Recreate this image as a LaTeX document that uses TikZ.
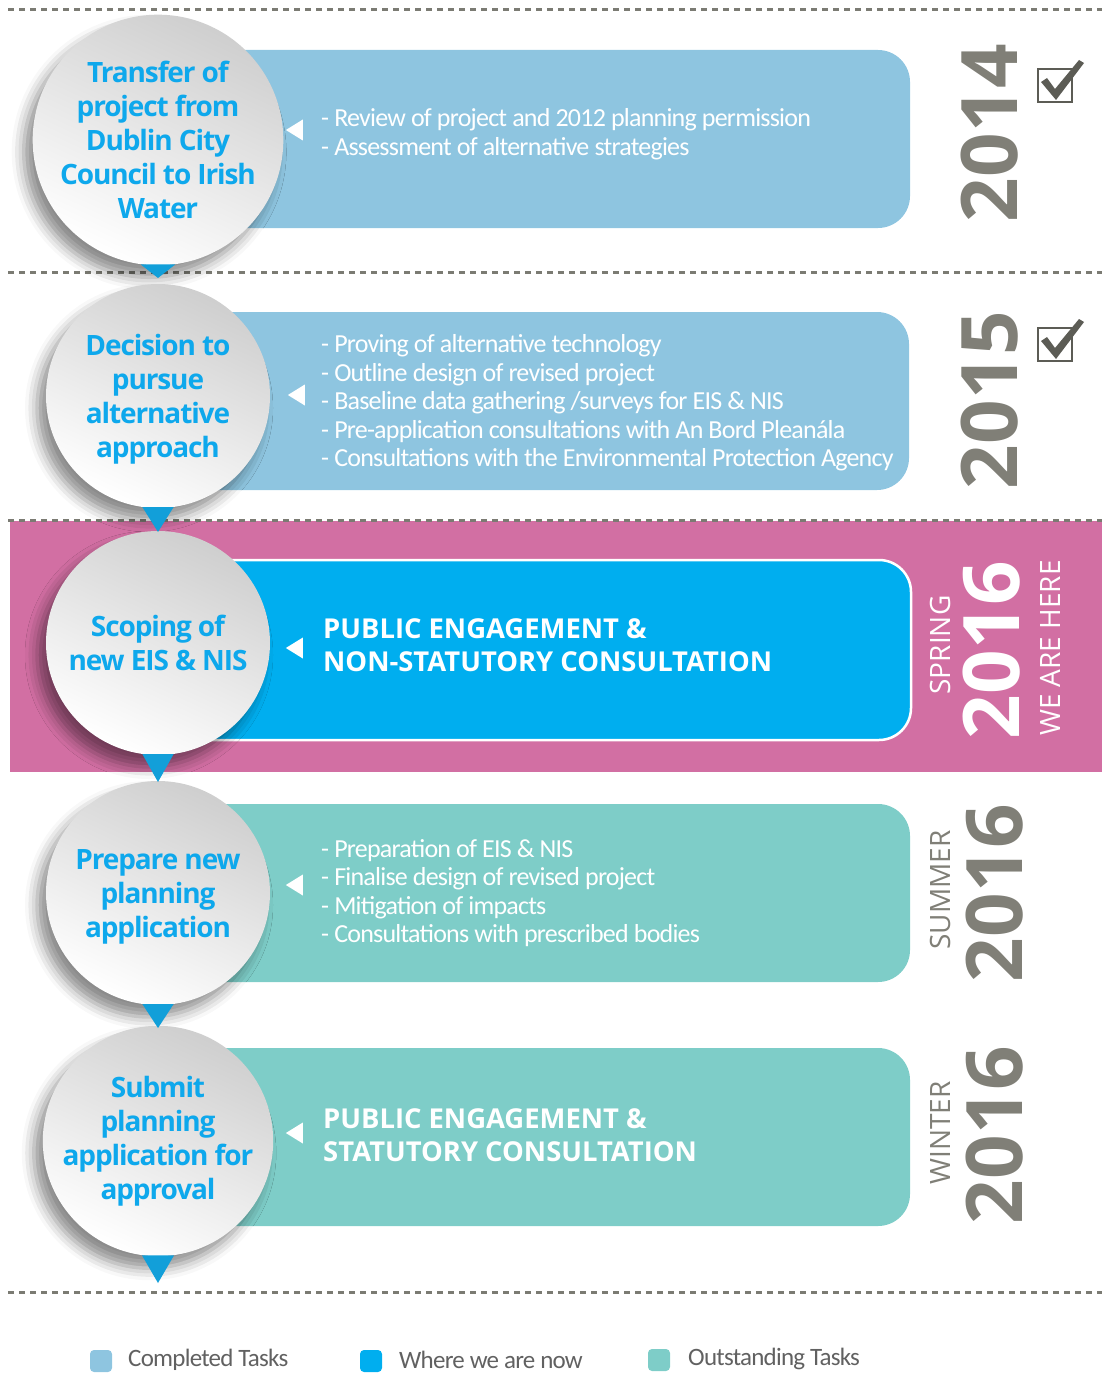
\documentclass[tikz,border=0pt]{standalone}
\usepackage{fontspec}
\setmainfont{Open Sans}
\newfontfamily\stepfont[LetterSpace=-4]{Open Sans}
\newfontfamily\taskfont[LetterSpace=-3]{Carlito}
\usetikzlibrary{shapes.geometric,shadows.blur,calc}

\definecolor{done}{HTML}{8EC5E0}
\definecolor{now}{HTML}{00AEEF}
\definecolor{todo}{HTML}{7ECDC8}
\definecolor{band}{HTML}{D26FA3}
\definecolor{stepblue}{HTML}{0EA8EC}
\definecolor{pinblue}{HTML}{129FD9}
\definecolor{yeargrey}{HTML}{807F77}
\definecolor{dotgrey}{HTML}{7B7B73}
\definecolor{tickgrey}{HTML}{5C5C55}

\begin{document}
\begin{tikzpicture}[x=1pt,y=-1pt]
\useasboundingbox (0,0) rectangle (1102,1375);
%%%%%%%%%%%%%%%%%%%%%%%%%%%%%%%%%%%%%%%%%%%%%%%%%%%%%%%%%%%%%%%%%%%%%%%%
%styles
\tikzstyle{milestone}=[circle,minimum size=224pt,inner sep=0pt,align=center,
  top color=black!19,bottom color=white,shading angle=-25,text=stepblue,
  font=\stepfont\bfseries\fontsize{28}{34}\selectfont,
  blur shadow={shadow xshift=-9pt,shadow yshift=-12pt,shadow blur radius=12pt,shadow opacity=45}]
\tikzstyle{taskbox}=[rectangle,rounded corners=32pt,minimum width=760pt,minimum height=178pt,inner sep=0pt]
\tikzstyle{pointer}=[isosceles triangle,isosceles triangle stretches=true,shape border rotate=180,
  fill=white,inner sep=0pt,minimum height=17pt,minimum width=21pt]
\tikzstyle{tasks}=[anchor=west,align=left,text=white,inner sep=0pt,font=\taskfont\fontsize{26}{28.6}\selectfont]
\tikzstyle{stage}=[anchor=west,align=left,text=white,inner sep=0pt,font=\bfseries\fontsize{27.4}{33}\selectfont]
\tikzstyle{year}=[rotate=90,inner sep=0pt,text=yeargrey,font=\bfseries\fontsize{78}{78}\selectfont]
\tikzstyle{season}=[rotate=90,inner sep=0pt,text=yeargrey,font=\fontsize{28}{28}\selectfont]
\tikzstyle{dots}=[dotgrey,line width=3pt,dash pattern=on 6pt off 5pt]
\tikzstyle{key}=[rectangle,rounded corners=4pt,minimum size=22pt,inner sep=0pt]
\tikzstyle{keytext}=[anchor=west,inner sep=0pt,text=black!62,font=\taskfont\fontsize{25}{25}\selectfont]

%centres of the circles
\coordinate (c1) at (158,140);
\coordinate (c2) at (158,396);
\coordinate (c3) at (158,643);
\coordinate (c4) at (158,893);
\coordinate (c5) at (158,1141);

%current stage band
\fill[band] (10,521) rectangle (1102,772);

%separators
\draw[dots] (8,10) -- (1102,10);
\draw[dots] (8,272) -- (1102,272);
\draw[dots] (8,520) -- (1102,520);
\draw[dots] (8,1292) -- (1102,1292);

%boxes
\node[taskbox,fill=done] (box1) at (530,139) {};
\node[taskbox,fill=done] (box2) at (529,401) {};
\node[taskbox,fill=now,draw=white,line width=2.5pt,minimum height=180pt] (box3) at (531,650) {};
\node[taskbox,fill=todo] (box4) at (530,893) {};
\node[taskbox,fill=todo] (box5) at (530,1137) {};

%milestones
\node[milestone] (step1) at (c1) {Transfer of\\project from\\Dublin City\\Council to Irish\\Water};
\node[milestone,text depth=0pt] (step2) at (c2) {Decision to\\pursue\\alternative\\approach};
\node[milestone] (step3) at (c3) {Scoping of\\new EIS \& NIS};
\node[milestone,text depth=0pt] (step4) at (c4) {Prepare new\\planning\\application};
\node[milestone] (step5) at (c5) {Submit\\planning\\application for\\approval};

%pins under the circles
\fill[pinblue] (step1.-98) -- (step1.-82) -- ($(c1)+(0,138)$) -- cycle;
\fill[pinblue] (step2.-98) -- (step2.-82) -- ($(c2)+(0,136)$) -- cycle;
\fill[pinblue] (step3.-98) -- (step3.-82) -- ($(c3)+(0,139)$) -- cycle;
\fill[pinblue] (step4.-98) -- (step4.-82) -- ($(c4)+(0,135)$) -- cycle;
\fill[pinblue] (step5.-98) -- (step5.-82) -- ($(c5)+(0,142)$) -- cycle;

%white pointers
\node[pointer] (ptr1) at (297,130) {};
\node[pointer] (ptr2) at (299,395) {};
\node[pointer] (ptr3) at (297,648) {};
\node[pointer] (ptr4) at (297,885) {};
\node[pointer] (ptr5) at (297,1133) {};

%tasks
\node[tasks] (list1) at (321,134) {- Review of project and 2012 planning permission\\- Assessment of alternative strategies};
\node[tasks] (list2) at (321,403) {- Proving of alternative technology\\- Outline design of revised project\\- Baseline data gathering /surveys for EIS \& NIS\\- Pre-application consultations with An Bord Pleanála\\- Consultations with the Environmental Protection Agency};
\node[stage] (list3) at (323,645) {PUBLIC ENGAGEMENT \&\\NON-STATUTORY CONSULTATION};
\node[tasks] (list4) at (321,893) {- Preparation of EIS \& NIS\\- Finalise design of revised project\\- Mitigation of impacts\\- Consultations with prescribed bodies};
\node[stage] (list5) at (323,1135) {PUBLIC ENGAGEMENT \&\\STATUTORY CONSULTATION};

%years
\node[year] (year1) at (990,133) {2014};
\node[year] (year2) at (990,400) {2015};
\node[year,text=white] (year3) at (992,650) {2016};
\node[year] (year4) at (995,893) {2016};
\node[year] (year5) at (995,1135) {2016};

\node[season,text=white] (spring) at (940,645) {SPRING};
\node[season,text=white] (here) at (1050,648) {WE ARE HERE};
\node[season] (summer) at (940,890) {SUMMER};
\node[season] (winter) at (940,1133) {WINTER};

%ticks
\draw[tickgrey,line width=2.5pt] (1038,69) rectangle (1072,102);
\fill[tickgrey] (1041,82) -- (1047,78) -- (1055,89) -- (1079,60) -- (1084,63) -- (1056,100) -- cycle;
\draw[tickgrey,line width=2.5pt] (1038,328) rectangle (1072,361);
\fill[tickgrey] (1041,341) -- (1047,337) -- (1055,348) -- (1079,319) -- (1084,322) -- (1056,359) -- cycle;

%legend
\node[key,fill=done] (key1) at (101,1361) {};
\node[keytext] (lab1) at (128,1360) {Completed Tasks};
\node[key,fill=now] (key2) at (371,1361) {};
\node[keytext] (lab2) at (399,1360) {Where we are now};
\node[key,fill=todo] (key3) at (659,1360) {};
\node[keytext] (lab3) at (688,1359) {Outstanding Tasks};

\end{tikzpicture}
\end{document}
